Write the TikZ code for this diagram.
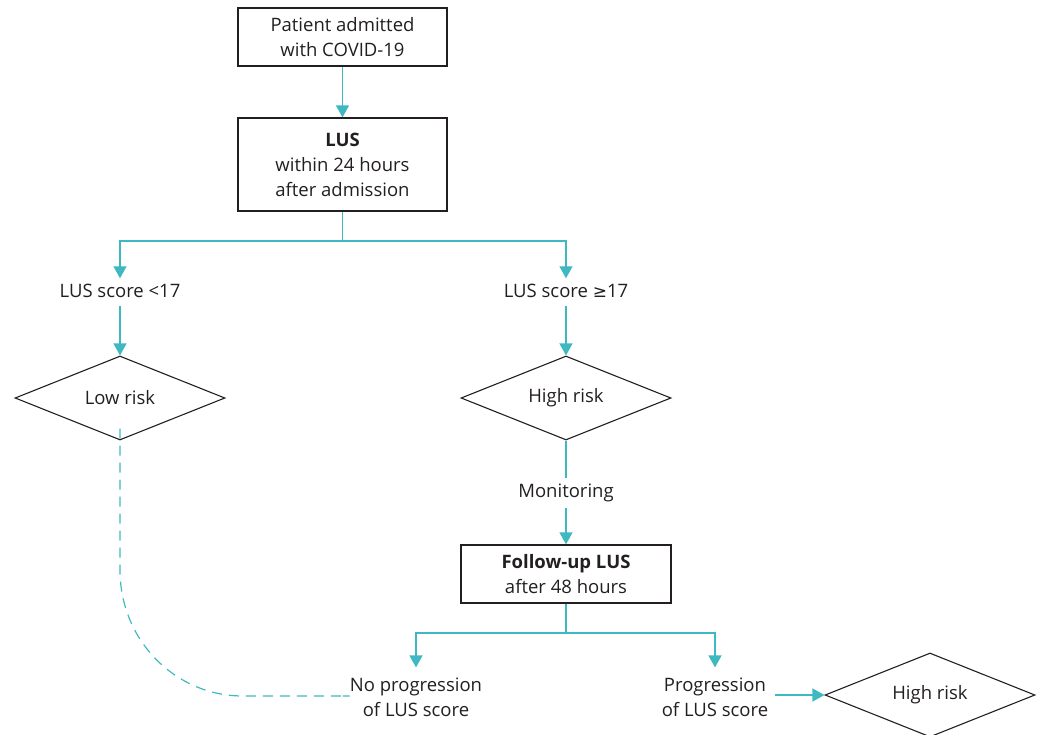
\documentclass[tikz,border=0pt]{standalone}
\usepackage{fontspec}
\setmainfont{Open Sans}
\newfontfamily\symfont{DejaVu Sans}
\usetikzlibrary{shapes.geometric,arrows.meta}
\definecolor{teal}{HTML}{3FB9C1}
\definecolor{ink}{HTML}{231F20}
\tikzset{
  every node/.style={text=ink, font=\fontsize{18.5}{25}\selectfont},
  box/.style={draw=ink, line width=1.3pt, rectangle, align=center, inner sep=0pt},
  dia/.style={draw=ink, line width=1.1pt, diamond, aspect=2.5, minimum width=210pt, minimum height=84pt, inner sep=0pt},
  lab/.style={align=center, inner sep=0pt, text height=13pt, text depth=4pt},
  lab2/.style={align=center, inner sep=0pt},
  conn/.style={draw=teal, line width=1.4pt},
  arr/.style={conn, -{Triangle[width=13pt,length=12pt]}},
}
\begin{document}
\begin{tikzpicture}[x=1pt,y=-1pt]
\useasboundingbox (0,0) rectangle (1038,735);
\node[box, minimum width=209pt, minimum height=58pt] (p1) at (342.5,37) {Patient admitted\\with COVID-19};
\node[box, minimum width=209pt, minimum height=93pt] (lus) at (342.5,164.5) {\textbf{LUS}\\within 24 hours\\after admission};
\coordinate (s1) at (342.5,241);
\node[lab] (l1) at (120,293) {LUS score <17};
\node[lab] (l2) at (566,293) {LUS score {\symfont\fontsize{17}{25}\selectfont ≥}17};
\node[dia] (low) at (120,398) {Low risk};
\node[dia] (high) at (566,398) {High risk};
\node[lab] (mon) at (566,493) {Monitoring};
\node[box, minimum width=210pt, minimum height=58pt] (fu) at (566,574) {\textbf{Follow-up LUS}\\after 48 hours};
\coordinate (s2) at (566,633);
\node[lab2] (nop) at (416,697) {No progression\\of LUS score};
\node[lab2] (prog) at (715,697) {Progression\\of LUS score};
\node[dia] (high2) at (930,695) {High risk};
\coordinate (c1) at (120,570);
\coordinate (c2) at (243,696);

\draw[arr] (p1.south) -- (lus.north);
\draw[conn] (lus.south) -- (s1);
\draw[arr, shorten >=6pt] (s1) -| (l1.north);
\draw[arr, shorten >=6pt] (s1) -| (l2.north);
\draw[arr, shorten <=4pt] (l1.south) -- (low.north);
\draw[arr, shorten <=4pt] (l2.south) -- (high.north);
\draw[conn, shorten >=6pt] (high.south) -- (mon.north);
\draw[arr, shorten <=6pt] (mon.south) -- (fu.north);
\draw[conn] (fu.south) -- (s2);
\draw[arr, shorten >=10pt] (s2) -| (nop.north);
\draw[arr, shorten >=10pt] (s2) -| (prog.north);
\draw[arr, shorten <=7pt] (prog.east |- high2.west) -- (high2.west);
\draw[conn, dashed, dash pattern=on 10pt off 7pt, line width=1.2pt] ([yshift=12pt]low.south) -- (c1) .. controls (120,640) and (175,696) .. (c2) -- (nop.west |- c2) -- ([xshift=-7pt]nop.west |- c2);
\end{tikzpicture}
\end{document}
